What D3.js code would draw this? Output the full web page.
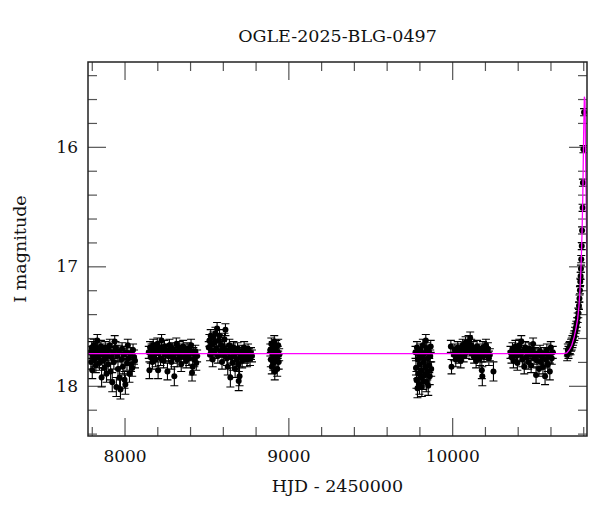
<!DOCTYPE html>
<html>
<head>
<meta charset="utf-8">
<script src="https://cdn.jsdelivr.net/npm/d3@7"></script>
<style>
  html, body { margin: 0; padding: 0; background: #fff; }
  svg text { font-family: "DejaVu Serif", "Liberation Serif", serif; fill: #111; }
</style>
</head>
<body>
<svg id="chart" width="600" height="512"></svg>
<script>
// ---------------- data (HJD-2450000, I mag, error) ----------------
const chartTitle = "OGLE-2025-BLG-0497";
const xLabel = "HJD - 2450000";
const yLabel = "I magnitude";
const xMajorTicks = [8000, 9000, 10000];
const yMajorTicks = [16, 17, 18];

const season1 = [
[7790,17.72,.05],[7795,17.80,.06],[7800,17.68,.05],[7803,17.87,.07],[7808,17.75,.05],[7812,17.66,.05],[7816,17.78,.06],[7820,17.71,.05],[7825,17.83,.06],[7830,17.69,.05],[7834,17.62,.05],[7838,17.76,.05],[7842,17.73,.05],[7847,17.81,.06],[7852,17.70,.05],[7856,17.67,.05],[7860,17.93,.08],[7864,17.74,.05],[7868,17.79,.06],[7873,17.72,.05],[7878,17.85,.06],[7882,17.68,.05],[7886,17.77,.06],[7890,17.90,.07],[7895,17.74,.05],[7900,17.82,.06],[7905,17.70,.05],[7910,17.66,.05],[7915,17.88,.07],[7920,17.76,.06],[7925,17.97,.08],[7930,17.72,.05],[7935,17.80,.06],[7940,17.63,.05],[7945,17.68,.05],[7950,18.01,.08],[7955,17.75,.05],[7960,17.86,.07],[7965,17.71,.05],[7970,17.93,.08],[7975,18.03,.08],[7980,17.78,.06],[7985,17.69,.05],[7990,17.84,.06],[7995,17.74,.05],[8000,17.95,.07],[8005,17.99,.08],[8010,17.72,.05],[8015,17.81,.06],[8020,17.66,.05],[8025,17.77,.06],[8030,17.90,.07],[8035,17.73,.05],[8040,17.82,.06],[8047,17.85,.07],[8052,17.70,.05],[8058,17.76,.06],[8064,17.79,.06]
];
const season2 = [
[8148,17.72,.05],[8152,17.87,.07],[8156,17.68,.05],[8160,17.76,.05],[8165,17.70,.05],[8170,17.80,.06],[8175,17.66,.05],[8180,17.74,.05],[8185,17.69,.05],[8190,17.78,.06],[8195,17.72,.05],[8200,17.65,.05],[8205,17.87,.07],[8210,17.73,.05],[8215,17.68,.05],[8220,17.77,.06],[8226,17.62,.05],[8232,17.71,.05],[8238,17.79,.06],[8244,17.67,.05],[8250,17.74,.05],[8256,17.70,.05],[8262,17.88,.07],[8268,17.75,.05],[8274,17.66,.05],[8280,17.72,.05],[8286,17.80,.06],[8292,17.69,.05],[8298,17.76,.05],[8304,17.92,.08],[8310,17.71,.05],[8316,17.65,.05],[8322,17.78,.06],[8328,17.73,.05],[8334,17.68,.05],[8340,17.75,.05],[8346,17.82,.06],[8352,17.70,.05],[8358,17.67,.05],[8364,17.76,.05],[8370,17.72,.05],[8376,17.79,.06],[8382,17.69,.05],[8388,17.74,.05],[8394,17.77,.06],[8400,17.70,.05],[8406,17.66,.05],[8412,17.89,.07],[8416,17.84,.07],[8420,17.73,.05],[8426,17.78,.06],[8432,17.71,.05],[8438,17.81,.06],[8443,17.75,.05]
];
const season3 = [
[8514,17.68,.05],[8518,17.62,.05],[8522,17.74,.05],[8526,17.58,.05],[8530,17.70,.05],[8534,17.65,.05],[8538,17.78,.06],[8542,17.60,.05],[8546,17.72,.05],[8550,17.64,.05],[8555,17.56,.05],[8560,17.69,.05],[8565,17.52,.05],[8570,17.75,.06],[8575,17.62,.05],[8580,17.58,.05],[8585,17.71,.05],[8590,17.66,.05],[8595,17.80,.06],[8600,17.68,.05],[8605,17.74,.05],[8610,17.61,.05],[8616,17.53,.05],[8620,17.70,.05],[8625,17.77,.06],[8630,17.84,.07],[8635,17.72,.05],[8640,17.66,.05],[8646,17.93,.08],[8650,17.76,.05],[8655,17.70,.05],[8660,17.81,.06],[8665,17.68,.05],[8670,17.74,.05],[8675,17.86,.07],[8680,17.72,.05],[8685,17.78,.06],[8690,17.69,.05],[8695,17.82,.06],[8697,17.96,.08],[8702,17.92,.08],[8707,17.75,.05],[8712,17.71,.05],[8718,17.79,.06],[8724,17.73,.05],[8730,17.68,.05],[8736,17.76,.05],[8742,17.72,.05],[8748,17.78,.06],[8754,17.70,.05],[8760,17.74,.05],[8766,17.77,.06],[8772,17.73,.05],[8778,17.75,.05]
];
const season4 = [
[8890,17.70,.05],[8893,17.78,.06],[8896,17.65,.05],[8899,17.84,.06],[8902,17.73,.05],[8905,17.68,.05],[8908,17.81,.06],[8911,17.75,.05],[8914,17.63,.05],[8917,17.88,.07],[8920,17.71,.05],[8923,17.79,.06],[8926,17.67,.05],[8929,17.76,.05],[8932,17.86,.06],[8935,17.72,.05],[8938,17.66,.05],[8941,17.80,.06],[8944,17.74,.05]
];
const season5 = [
[9776,17.72,.05],[9779,17.85,.06],[9782,17.95,.07],[9785,17.68,.05],[9788,18.02,.08],[9791,17.78,.06],[9794,17.90,.07],[9797,17.74,.05],[9800,17.99,.08],[9803,17.82,.06],[9806,17.70,.05],[9809,17.93,.07],[9812,17.87,.06],[9815,18.01,.08],[9818,17.76,.05],[9821,17.66,.05],[9824,17.96,.07],[9827,17.80,.06],[9830,17.73,.05],[9833,17.91,.07],[9836,17.84,.06],[9839,17.62,.05],[9842,17.97,.08],[9845,17.69,.05],[9848,17.88,.07],[9851,17.77,.06],[9854,18.00,.08],[9857,17.71,.05],[9860,17.83,.06],[9863,17.92,.07],[9866,17.75,.05],[9869,17.67,.05],[9872,17.86,.06]
];
const season6 = [
[9992,17.67,.05],[9996,17.84,.06],[10010,17.74,.05],[10016,17.70,.05],[10022,17.78,.06],[10028,17.73,.05],[10034,17.68,.05],[10040,17.76,.05],[10046,17.72,.05],[10052,17.79,.06],[10058,17.70,.05],[10064,17.66,.05],[10070,17.75,.05],[10076,17.69,.05],[10082,17.64,.05],[10088,17.72,.05],[10094,17.67,.05],[10100,17.63,.05],[10106,17.70,.05],[10110,17.60,.05],[10116,17.66,.05],[10122,17.73,.05],[10128,17.68,.05],[10134,17.76,.05],[10140,17.71,.05],[10146,17.79,.06],[10152,17.67,.05],[10158,17.74,.05],[10164,17.70,.05],[10170,17.77,.06],[10176,17.72,.05],[10181,17.87,.07],[10184,17.92,.08],[10188,17.68,.05],[10194,17.75,.05],[10200,17.71,.05],[10206,17.66,.05],[10212,17.73,.05],[10218,17.69,.05],[10224,17.77,.06],[10230,17.74,.05],[10252,17.88,.08]
];
const season7 = [
[10356,17.72,.05],[10362,17.76,.05],[10368,17.69,.05],[10374,17.79,.06],[10380,17.73,.05],[10386,17.67,.05],[10392,17.75,.05],[10398,17.81,.06],[10404,17.70,.05],[10410,17.66,.05],[10416,17.74,.05],[10422,17.63,.05],[10428,17.78,.06],[10434,17.71,.05],[10440,17.84,.06],[10446,17.68,.05],[10452,17.76,.05],[10458,17.72,.05],[10464,17.80,.06],[10470,17.69,.05],[10476,17.74,.05],[10482,17.83,.06],[10488,17.70,.05],[10494,17.65,.05],[10500,17.77,.05],[10506,17.73,.05],[10512,17.91,.07],[10518,17.79,.06],[10524,17.74,.05],[10530,17.86,.06],[10536,17.71,.05],[10542,17.80,.06],[10548,17.76,.05],[10554,17.84,.06],[10560,17.73,.05],[10567,17.92,.07],[10572,17.78,.06],[10578,17.70,.05],[10584,17.82,.06],[10590,17.75,.05],[10596,17.88,.07],[10602,17.68,.05],[10608,17.77,.05],[10614,17.72,.05]
];
const season8 = [
[10702,17.74,.05],[10706,17.70,.05],[10710,17.72,.05],[10714,17.69,.05],[10718,17.68,.05],[10722,17.69,.05],[10726,17.66,.05],[10730,17.65,.05],[10734,17.63,.05],[10738,17.62,.04],[10742,17.60,.04],[10746,17.58,.04],[10750,17.55,.04],[10754,17.52,.04],[10758,17.50,.04],[10762,17.47,.04],[10766,17.43,.04],[10770,17.39,.04],[10774,17.33,.03],[10777,17.27,.03],[10780,17.20,.03],[10782,17.13,.03],[10784,17.08,.03],[10786,17.02,.03],[10788,16.94,.03],[10791,16.83,.03],[10793,16.70,.03],[10796,16.51,.03],[10798,16.30,.03],[10801,16.02,.03],[10805,15.71,.03]
];
// microlensing model curve
const modelCurve = [
[7770,17.73],[10680,17.73],[10700,17.725],[10715,17.70],[10730,17.66],[10745,17.59],[10757,17.51],[10766,17.44],[10774,17.33],[10780,17.20],[10785,17.05],[10789,16.90],[10793,16.70],[10797,16.45],[10800,16.15],[10803,15.85],[10807,15.58],[10811,15.62],[10816,16.25],[10822,16.95],[10830,17.40]
];

// ---------------- layout ----------------
const W = 600, H = 512;
const margin = {left: 88, right: 13, top: 62, bottom: 76};
const svg = d3.select("#chart");
const pw = W - margin.left - margin.right;
const ph = H - margin.top - margin.bottom;

const x = d3.scaleLinear().domain([7777, 10823]).range([margin.left, margin.left + pw]);
const y = d3.scaleLinear().domain([15.29, 18.42]).range([margin.top, margin.top + ph]);

const allData = [].concat(season1, season2, season3, season4, season5, season6, season7, season8);

svg.append("defs").append("clipPath").attr("id", "clip")
  .append("rect").attr("x", margin.left).attr("y", margin.top).attr("width", pw).attr("height", ph);

// ---------------- ticks (inward, mirrored) ----------------
const tickColor = "#555";
const minorX = d3.range(7800, 10801, 200).filter(v => !xMajorTicks.includes(v));
const minorY = d3.range(15.4, 18.41, 0.2).map(v => +v.toFixed(1)).filter(v => !yMajorTicks.includes(v));

function styleAxis(g) {
  g.select(".domain").remove();
  g.selectAll(".tick line").attr("stroke", tickColor).attr("stroke-width", 1.2);
  g.selectAll("text").style("font-family", '"DejaVu Serif", serif').style("font-size", "17px").attr("fill", "#111");
}

// bottom
svg.append("g").attr("transform", `translate(0,${margin.top + ph})`)
  .call(d3.axisBottom(x).tickValues(minorX).tickSize(-9).tickFormat("")).call(styleAxis);
svg.append("g").attr("transform", `translate(0,${margin.top + ph})`)
  .call(d3.axisBottom(x).tickValues(xMajorTicks).tickSize(-18).tickPadding(14).tickFormat(d3.format("d"))).call(styleAxis);
// top
svg.append("g").attr("transform", `translate(0,${margin.top})`)
  .call(d3.axisTop(x).tickValues(minorX).tickSize(-9).tickFormat("")).call(styleAxis);
svg.append("g").attr("transform", `translate(0,${margin.top})`)
  .call(d3.axisTop(x).tickValues(xMajorTicks).tickSize(-18).tickFormat("")).call(styleAxis);
// left
svg.append("g").attr("transform", `translate(${margin.left},0)`)
  .call(d3.axisLeft(y).tickValues(minorY).tickSize(-9).tickFormat("")).call(styleAxis);
svg.append("g").attr("transform", `translate(${margin.left},0)`)
  .call(d3.axisLeft(y).tickValues(yMajorTicks).tickSize(-18).tickPadding(10).tickFormat(d3.format("d"))).call(styleAxis);
// right
svg.append("g").attr("transform", `translate(${margin.left + pw},0)`)
  .call(d3.axisRight(y).tickValues(minorY).tickSize(-9).tickFormat("")).call(styleAxis);
svg.append("g").attr("transform", `translate(${margin.left + pw},0)`)
  .call(d3.axisRight(y).tickValues(yMajorTicks).tickSize(-18).tickFormat("")).call(styleAxis);

// ---------------- data ----------------
const plot = svg.append("g").attr("clip-path", "url(#clip)");
const cap = 4;
const eb = plot.append("g").attr("stroke", "#000").attr("stroke-width", 1.1).attr("fill", "none");
eb.selectAll("path").data(allData).join("path")
  .attr("d", d => {
    const cx = x(d[0]), y1 = y(d[1] - d[2]), y2 = y(d[1] + d[2]);
    return `M${cx},${y1}V${y2}M${cx - cap},${y1}H${cx + cap}M${cx - cap},${y2}H${cx + cap}`;
  });
plot.append("g").selectAll("circle").data(allData).join("circle")
  .attr("cx", d => x(d[0])).attr("cy", d => y(d[1])).attr("r", 3).attr("fill", "#000");

// model
plot.append("path").datum(modelCurve)
  .attr("d", d3.line().x(d => x(d[0])).y(d => y(d[1])))
  .attr("fill", "none").attr("stroke", "#ff00ff").attr("stroke-width", 1.3);

// frame
svg.append("rect").attr("x", margin.left).attr("y", margin.top).attr("width", pw).attr("height", ph)
  .attr("fill", "none").attr("stroke", "#222").attr("stroke-width", 1.5);

// ---------------- labels ----------------
svg.append("text").attr("x", margin.left + pw / 2).attr("y", 42).attr("text-anchor", "middle")
  .style("font-size", "17.5px").text(chartTitle);
svg.append("text").attr("x", margin.left + pw / 2).attr("y", 492).attr("text-anchor", "middle")
  .style("font-size", "17.5px").text(xLabel);
svg.append("text").attr("transform", `translate(26,${margin.top + ph / 2}) rotate(-90)`).attr("text-anchor", "middle")
  .style("font-size", "17.5px").text(yLabel);
</script>
</body>
</html>
